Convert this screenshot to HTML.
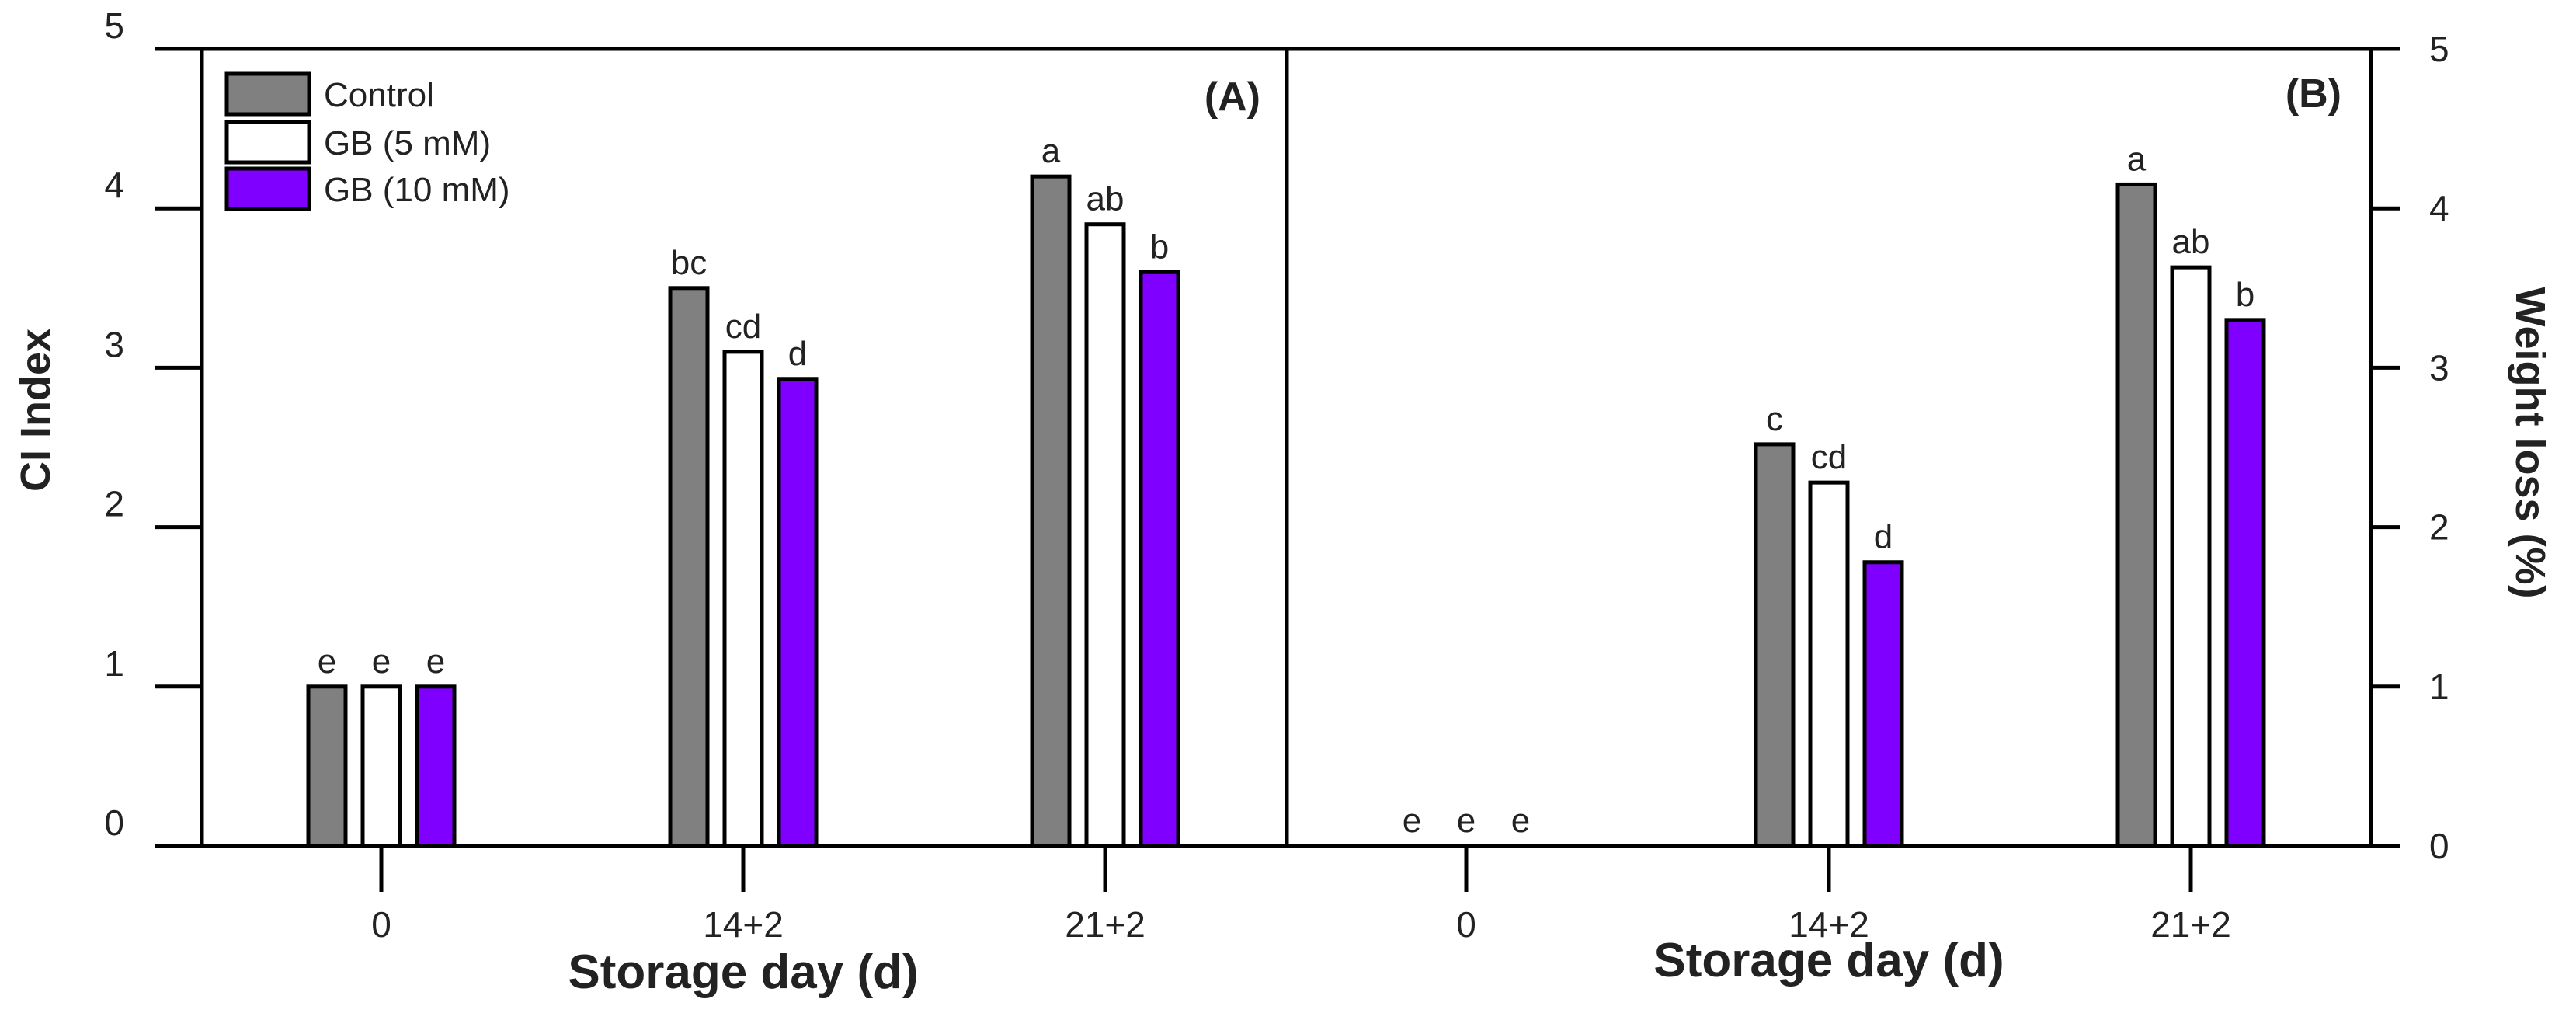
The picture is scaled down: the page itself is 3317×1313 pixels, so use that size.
<!DOCTYPE html>
<html><head><meta charset="utf-8"><style>
html,body{margin:0;padding:0;background:#fff}
svg{display:block;font-family:"Liberation Sans",Arial,sans-serif}
</style></head><body>
<svg id="chart" width="3317" height="1313" viewBox="0 0 3317 1313" xmlns="http://www.w3.org/2000/svg"></svg>
<script>
const categories = ["0","14+2","21+2"];
const seriesNames = ["Control","GB (5 mM)","GB (10 mM)"];
const colors = ["#808080","#ffffff","#7f00ff"];
const valuesA_control = [1.0, 3.5, 4.2];
const valuesA_gb5 = [1.0, 3.1, 3.9];
const valuesA_gb10 = [1.0, 2.93, 3.6];
const lettersA = [["e","bc","a"],["e","cd","ab"],["e","d","b"]];
const valuesB_control = [0, 2.52, 4.15];
const valuesB_gb5 = [0, 2.28, 3.63];
const valuesB_gb10 = [0, 1.78, 3.3];
const lettersB = [["e","c","a"],["e","cd","ab"],["e","d","b"]];
const yTicks = [0,1,2,3,4,5];

const NS="http://www.w3.org/2000/svg";
const svg=document.getElementById('chart');
function el(tag,attrs,parent){const e=document.createElementNS(NS,tag);for(const k in attrs)e.setAttribute(k,attrs[k]);(parent||svg).appendChild(e);return e;}
const yTop=63, yBase=1089;
function yScale(v){return yBase-(yBase-yTop)*v/5;}
const centersA=[491,957,1423], centersB=[1888,2355,2821];
function xBar(centers,gi,si){return centers[gi]+(si-1)*70;}
const BW=48;

// frame lines
let l;
l=el('line',{x1:200,y1:yTop,x2:3091,y2:yTop,stroke:'#000','stroke-width':5});

l=el('line',{x1:200,y1:yBase,x2:3091,y2:yBase,stroke:'#000','stroke-width':5});

l=el('line',{x1:260,y1:yTop,x2:260,y2:yBase,stroke:'#000','stroke-width':5});

l=el('line',{x1:1657,y1:yTop,x2:1657,y2:yBase,stroke:'#000','stroke-width':5});

l=el('line',{x1:3053,y1:yTop,x2:3053,y2:yBase,stroke:'#000','stroke-width':5});


yTicks.forEach(t=>{
  const y=yScale(t);
  let a=el('line',{x1:200,y1:y,x2:260,y2:y,stroke:'#000','stroke-width':5});
  
  let b=el('text',{x:160,y:y-14,'font-size':46,'text-anchor':'end',fill:'#222'});b.textContent=t;
  
  let c=el('line',{x1:3053,y1:y,x2:3091,y2:y,stroke:'#000','stroke-width':5});
  
  let d=el('text',{x:3128,y:y+16,'font-size':46,'text-anchor':'start',fill:'#222'});d.textContent=t;
  
});

function drawPanel(centers,vals,letters,panel){
  categories.forEach((c,gi)=>{
    const cx=centers[gi];
    let t=el('line',{x1:cx,y1:yBase,x2:cx,y2:1148,stroke:'#000','stroke-width':5});
    
    let lb=el('text',{x:cx,y:1206,'font-size':46,'text-anchor':'middle',fill:'#222'});lb.textContent=c;
    
    vals.forEach((arr,si)=>{
      const v=arr[gi];const x=xBar(centers,gi,si)-BW/2;const y=yScale(v);
      if(v>0){
        let r=el('rect',{x:x,y:y,width:BW,height:yBase-y,fill:colors[si],stroke:'#000','stroke-width':5});
        
        
      }
      let s=el('text',{x:x+BW/2,y:y-18,'font-size':44,'text-anchor':'middle',fill:'#222'});s.textContent=letters[si][gi];
      
    });
  });
}
drawPanel(centersA,[valuesA_control,valuesA_gb5,valuesA_gb10],lettersA,'a');
drawPanel(centersB,[valuesB_control,valuesB_gb5,valuesB_gb10],lettersB,'b');

// titles
let tt=el('text',{x:957,y:1272,'font-size':62,'font-weight':'bold','text-anchor':'middle',fill:'#222'});tt.textContent='Storage day (d)';

tt=el('text',{x:2355,y:1257,'font-size':62,'font-weight':'bold','text-anchor':'middle',fill:'#222'});tt.textContent='Storage day (d)';

tt=el('text',{x:0,y:0,'font-size':54,'font-weight':'bold','text-anchor':'middle',fill:'#222',transform:'translate(64,528) rotate(-90)'});tt.textContent='CI Index';

tt=el('text',{x:0,y:0,'font-size':54,'font-weight':'bold','text-anchor':'middle',fill:'#222',transform:'translate(3240,570) rotate(90)'});tt.textContent='Weight loss (%)';

tt=el('text',{x:1623,y:142,'font-size':52,'font-weight':'bold','text-anchor':'end',fill:'#222'});tt.textContent='(A)';

tt=el('text',{x:3015,y:138,'font-size':52,'font-weight':'bold','text-anchor':'end',fill:'#222'});tt.textContent='(B)';


// legend
const legY=[121,183,243];
seriesNames.forEach((n,i)=>{
  let r=el('rect',{x:292,y:legY[i]-26,width:106,height:52,fill:colors[i],stroke:'#000','stroke-width':5});
  
  let t=el('text',{x:417,y:legY[i]+16,'font-size':44,fill:'#222'});t.textContent=n;
  
});
</script>
</body></html>
